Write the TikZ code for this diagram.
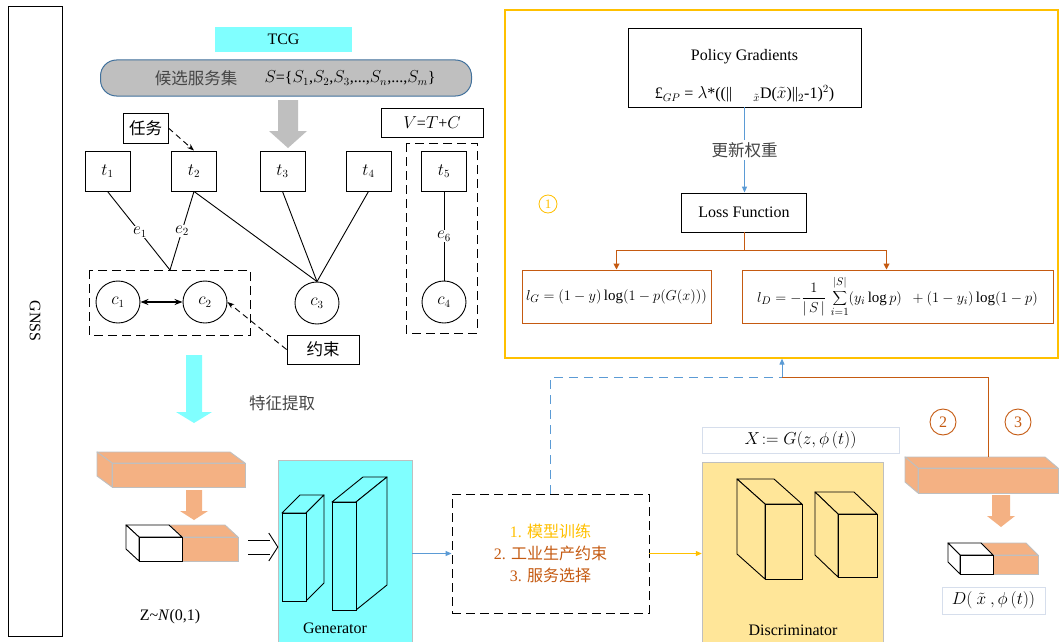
\documentclass[tikz,border=0pt]{standalone}
\usepackage{fontspec}
\setmainfont{Liberation Serif}
\newfontfamily\cjk{Noto Sans CJK SC}
\usetikzlibrary{arrows.meta, positioning, calc, shapes.geometric}
\definecolor{GANCyan}{RGB}{128, 255, 255}
\definecolor{GANGray}{RGB}{191, 191, 191}
\definecolor{GANSteel}{RGB}{65, 113, 156}
\definecolor{GANOrange}{RGB}{244, 177, 131}
\definecolor{GANRust}{RGB}{197, 90, 17}
\definecolor{GANYellow}{RGB}{255, 192, 0}
\definecolor{GANSand}{RGB}{255, 230, 153}
\definecolor{GANBlue}{RGB}{91, 155, 213}
\definecolor{GANFrame}{RGB}{214, 222, 236}
\definecolor{GANInk}{RGB}{70, 70, 70}

\tikzset{
  plainbox/.style={draw, line width=0.9pt, inner sep=2pt},
  taskbox/.style={plainbox, minimum width=45, minimum height=40},
  compnode/.style={ellipse, draw, line width=0.9pt, minimum width=44, minimum height=42, inner sep=0pt},
  elabel/.style={fill=white, inner sep=1pt},
  dashframe/.style={draw, line width=0.9pt, dash pattern=on 9pt off 5pt},
  rustbox/.style={draw=GANRust, line width=1pt, inner sep=2pt, font=\fontsize{15}{18}\selectfont},
  cjktext/.style={font=\fontsize{16.5}{19}\selectfont\cjk, text=GANInk},
  tip/.style={-{Stealth[length=7pt, width=5pt]}},
  rusttip/.style={draw=GANRust, line width=1pt, -{Triangle[length=6pt, width=6pt]}}
}

% cuboid: x, y (front top-left), w, h, dx, dy, fill, line colour
\newcommand{\gancube}[8]{%
  \pgfmathsetmacro\sidex{(#5>0)?(#1+#3):(#1)}%
  \filldraw[fill=#7, draw=#8, line width=0.9pt, line join=round]
    (#1,#2) -- ++(#5,#6) -- ++(#3,0) -- ++({-(#5)},{-(#6)}) -- cycle;
  \filldraw[fill=#7, draw=#8, line width=0.9pt, line join=round]
    (\sidex,#2) -- ++(#5,#6) -- ++(0,#4) -- ++({-(#5)},{-(#6)}) -- cycle;
  \filldraw[fill=#7, draw=#8, line width=0.9pt] (#1,#2) rectangle ++(#3,#4);
}
% block arrow pointing down: x, top, head start, tip, half shaft, half head, colour
\newcommand{\fatdown}[7]{%
  \fill[#7] ({#1-#5},#2) -- ({#1+#5},#2) -- ({#1+#5},#3) -- ({#1+#6},#3)
    -- (#1,#4) -- ({#1-#6},#3) -- ({#1-#5},#3) -- cycle;
}

\begin{document}
\begin{tikzpicture}[x=1pt, y=-1pt, font=\fontsize{16}{19}\selectfont]
  \path[use as bounding box] (0,0) rectangle (1063,642);
  \fill[white] (0,0) rectangle (1063,642);

  % side frame
  \node[draw, line width=0.8pt, rotate=-90, minimum width=630, minimum height=54] (gnss) at (35,321) {GNSS};

  % task graph
  \node[fill=GANCyan, minimum width=137, minimum height=25] (tcg) at (283.5,39.5) {TCG};
  \node[draw=GANSteel, fill=GANGray, line width=1pt, rounded corners=16pt,
        minimum width=371, minimum height=36] (pool) at (286,78) {};
  \node[cjktext] (poolname) at (196,78) {候选服务集};
  \node (poolset) at (350,78) {$S$=\{$S_1$,$S_2$,$S_3$,...,$S_n$,...,$S_m$\}};
  \fatdown{288}{100}{131}{148}{10}{19}{GANGray}

  \node[plainbox, cjktext, text=black, minimum width=45, minimum height=30] (duty) at (145.5,128) {任务};
  \node[plainbox, minimum width=102, minimum height=29] (vtc) at (432,122.5) {$V$=$T$+$C$};

  \foreach \n/\x in {1/107.5, 2/194, 3/282.5, 4/368.5, 5/444}{
    \node[taskbox] (t\n) at (\x,171) {$t_{\n}$};
  }
  \draw[dashframe] (89,270) rectangle (250,335);
  \draw[dashframe] (406,143) rectangle (477,333);
  \node[compnode] (c1) at (118,302) {$c_1$};
  \node[compnode] (c2) at (205,302) {$c_2$};
  \node[compnode] (c3) at (317,303) {$c_3$};
  \node[compnode] (c4) at (444,302) {$c_4$};
  \coordinate (jn) at (170,270);

  \draw[line width=0.9pt] (t1.south) -- node[elabel, pos=0.52] {$e_1$} (jn);
  \draw[line width=0.9pt] (t2.south) -- node[elabel, pos=0.5] {$e_2$} (jn);
  \draw[line width=0.9pt] (t5.south) -- node[elabel, pos=0.5] {$e_6$} (c4.north);
  \foreach \t in {t2, t3, t4}{
    \draw[line width=0.9pt] (\t.south) -- (c3.north);
  }
  \draw[line width=1.2pt, {Stealth[length=8pt, width=6pt]}-{Stealth[length=8pt, width=6pt]}] (c1) -- (c2);
  \draw[line width=0.9pt, dash pattern=on 6pt off 4pt, tip] (duty.east) -- (t2.north);

  \node[plainbox, cjktext, text=black, minimum width=72, minimum height=29] (cons) at (323,349.5) {约束};
  \draw[line width=0.9pt, dash pattern=on 6pt off 4pt, tip] (cons.west) -- (c2.east);

  % feature extraction
  \fatdown{194}{355}{412}{423}{8}{18}{GANCyan}
  \node[cjktext] (feat) at (282,403) {特征提取};
  \gancube{112}{463}{133}{24}{-15}{-11}{GANOrange}{GANGray}
  \fatdown{194}{490}{511}{520}{8}{14}{GANOrange}
  \gancube{182}{537}{56}{24}{-13}{-12}{GANOrange}{GANGray}
  \gancube{139}{537}{43}{24}{-13}{-12}{white}{black}
  \node (noise) at (170,617) {Z\textasciitilde\textit{N}(0,1)};
  \coordinate (zin) at (248,547);

  % generator
  \node[draw=GANGray, fill=GANCyan, minimum width=134, minimum height=182] (gen) at (345,551) {};
  \gancube{282}{513}{24}{88}{18}{-18}{GANCyan}{black}
  \gancube{332}{502}{24}{108}{31}{-25}{GANCyan}{black}
  \node (genname) at (335,628) {Generator};
  % hollow double arrow
  \draw[line width=0.9pt] (zin) ++(0,-7) -- ++(22,0);
  \draw[line width=0.9pt] (zin) ++(0,7) -- ++(22,0);
  \draw[line width=0.9pt, line join=miter] ($(zin -| gen.west)+(-9,-14)$) -- (zin -| gen.west) -- ++(-9,14);

  % training step
  \node[dashframe, minimum width=197, minimum height=119, align=center,
        font=\fontsize{16}{22}\selectfont] (train) at (550.5,553.5)
    {\textcolor{GANYellow}{1. {\cjk 模型训练}}\\
     \textcolor{GANRust}{2. {\cjk 工业生产约束}}\\
     \textcolor{GANRust}{3. {\cjk 服务选择}}};
  \draw[GANBlue, line width=1pt, -{Triangle[length=6pt, width=5pt]}] (gen.east |- train.west) -- (train.west);

  % discriminator
  \node[draw=GANFrame, line width=1pt, minimum width=197, minimum height=26] (xgen) at (800.5,440) {$X\!:=G(z,\phi\,(t))$};
  \node[draw=GANGray, fill=GANSand, minimum width=181, minimum height=180] (disc) at (792.5,552) {};
  \gancube{765}{504}{37}{75}{-28}{-25}{GANSand}{black}
  \gancube{838}{514}{39}{63}{-23}{-22}{GANSand}{black}
  \node (discname) at (793,630) {Discriminator};
  \draw[GANYellow, line width=1pt, -{Triangle[length=6pt, width=5pt]}] (train.east) -- (disc.west |- train.east);

  % output
  \gancube{918}{468}{140}{25}{-13}{-11}{GANOrange}{GANGray}
  \fatdown{1001}{495}{516}{527}{9}{14}{GANOrange}
  \gancube{993}{555}{45}{19}{-12}{-12}{GANOrange}{GANGray}
  \gancube{960}{555}{33}{19}{-12}{-12}{white}{black}
  \node[draw=GANFrame, line width=1pt, minimum width=103, minimum height=27] (dout) at (993.5,600.5) {$D(\ \tilde{x}\ ,\phi\,(t))$};
  \node[circle, draw=GANRust, text=GANRust, line width=0.9pt, minimum size=26, inner sep=0pt] (two) at (943,422) {2};
  \node[circle, draw=GANRust, text=GANRust, line width=0.9pt, minimum size=26, inner sep=0pt] (three) at (1018,422) {3};

  % loss panel
  \node[draw=GANYellow, line width=1.2pt, minimum width=553, minimum height=348] (panel) at (781.5,184) {};
  \node[plainbox, minimum width=233, minimum height=79] (pg) at (744.5,67.5) {};
  \node (pgname) at (744.5,57) {Policy Gradients};
  \node (pgform) at (744.5,94)
    {£$_{GP}$ = $\lambda$*((||\hspace{1.3em}$_{\tilde{x}}$D($\tilde{x}$)||$_2$-1)$^2$)};
  \node[plainbox, minimum width=125, minimum height=39] (lf) at (744,212.5) {Loss Function};
  \draw[GANBlue, line width=1pt, -{Triangle[length=6pt, width=5pt]}] (pg.south) -- node[fill=white, cjktext, inner sep=2pt] {更新权重} (pg.south |- lf.north);
  \node[circle, draw=GANYellow, text=GANYellow, line width=0.8pt, minimum size=18, inner sep=0pt,
        font=\fontsize{13}{15}\selectfont] (one) at (548,204) {1};

  \node[rustbox, minimum width=189, minimum height=53] (lg) at (616.5,296.5) {$l_G=(1-y)\log(1-p(G(x)))$};
  \node[rustbox, minimum width=311, minimum height=53] (ld) at (897.5,296.5)
    {$l_D=-\displaystyle\frac{1}{|\,S\,|}\,\sum_{\raisebox{-3pt}{$\scriptstyle i=1$}}^{\raisebox{3pt}{$\scriptstyle|S|$}}(y_i\log p)\ \ +(1-y_i)\log(1-p)$};
  \draw[GANRust, line width=1pt] (lf.south) -- ++(0,18) coordinate (split);
  \draw[rusttip] (split) -| (lg.north);
  \draw[rusttip] (split) -| ([xshift=-11pt]ld.north);

  % feedback
  \coordinate (merge) at (782,377);
  \coordinate (barin) at (988,457);
  \draw[GANBlue, line width=1pt, dash pattern=on 9pt off 6pt] (train.north) |- (merge);
  \draw[GANRust, line width=1pt] (barin) |- (merge);
  \draw[GANBlue, line width=1pt, -{Triangle[length=6pt, width=5pt]}] (merge) -- (merge |- panel.south);
\end{tikzpicture}
\end{document}
